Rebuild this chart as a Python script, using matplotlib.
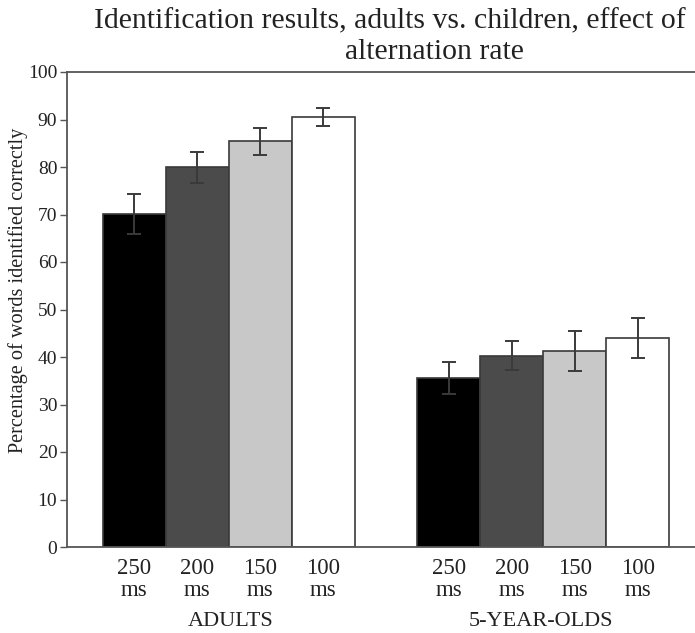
import matplotlib
matplotlib.use("Agg")
import matplotlib.pyplot as plt
import numpy as np

plt.rcParams['font.family'] = ['Liberation Serif', 'DejaVu Serif']

groups = ["ADULTS", "5-YEAR-OLDS"]
rates = ["250\nms", "200\nms", "150\nms", "100\nms"]
adults = [70.1, 79.9, 85.4, 90.6]
adults_err = [4.2, 3.2, 2.8, 1.9]
children = [35.6, 40.3, 41.3, 44.0]
children_err = [3.3, 3.1, 4.2, 4.2]
colors = ["#000000", "#4b4b4b", "#c8c8c8", "#ffffff"]

W, H = 695, 633
fig = plt.figure(figsize=(W / 100, H / 100), dpi=100)
ax = fig.add_axes([67 / W, (H - 547) / H, 1 - 67 / W, (547 - 72) / H])

x_ad = np.arange(4)
x_ch = np.arange(4) + 5
for vals, errs, xs in [(adults, adults_err, x_ad), (children, children_err, x_ch)]:
    ax.bar(xs, vals, width=1.0, color=colors, edgecolor="#3a3a3a", linewidth=1.2, zorder=2)
    ax.errorbar(xs, vals, yerr=errs, fmt="none", ecolor="#3a3a3a", elinewidth=1.4,
                capsize=5, capthick=1.4, zorder=3)

ax.set_ylim(0, 100)
ax.set_xlim(-1.07, 8.91)
ax.set_yticks(np.arange(0, 101, 10))
ax.tick_params(axis="y", direction="out", length=5, width=1, colors="#555555",
               labelcolor="#222222", labelsize=14, pad=2)
ax.set_xticks(np.concatenate([x_ad, x_ch]))
ax.set_xticklabels(rates * 2, fontsize=16.5, color="#222222", linespacing=1.08)
ax.tick_params(axis="x", length=0, pad=8)

for s in ["left", "bottom", "top"]:
    ax.spines[s].set_color("#555555")
    ax.spines[s].set_linewidth(1.3)
ax.spines["right"].set_visible(False)

fig.text(18 / W, 1 - 290 / H, "Percentage of words identified correctly", rotation=90,
         ha="center", va="center", fontsize=14.6, color="#222222")

fig.text(231 / W, 1 - 622 / H, groups[0], ha="center", va="center", fontsize=16, color="#222222")
fig.text(541 / W, 1 - 622 / H, groups[1], ha="center", va="center", fontsize=16, color="#222222")

fig.text(390 / W, 1 - 28 / H, "Identification results, adults vs. children, effect of",
         ha="center", va="baseline", fontsize=21.4, color="#222222")
fig.text(434 / W, 1 - 59 / H, "alternation rate",
         ha="center", va="baseline", fontsize=21.4, color="#222222")

fig.savefig("out.png", dpi=100)
